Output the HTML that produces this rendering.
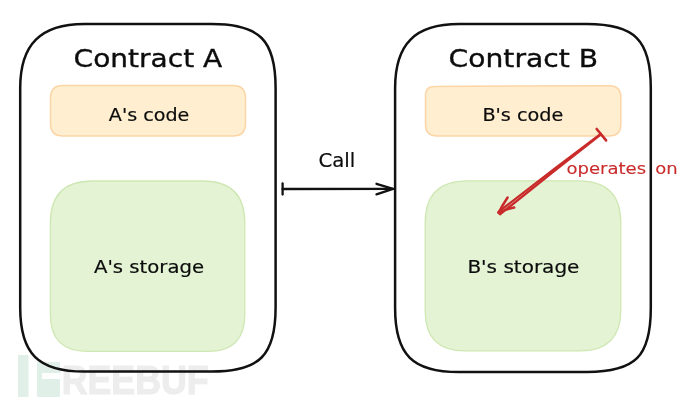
<!DOCTYPE html>
<html>
<head>
<meta charset="utf-8">
<title>Contract call diagram</title>
<style>
  html, body { margin: 0; padding: 0; background: #ffffff; }
  body { width: 690px; height: 404px; overflow: hidden; }
  svg { display: block; }
  .hand { font-family: "DejaVu Sans", "Liberation Sans", sans-serif; fill: #0c0c0c; stroke: #0c0c0c; stroke-width: 0.2; }
  .title { stroke: #0c0c0c; stroke-width: 0.35; }
  .red { fill: #c92a2a; stroke: #c92a2a; stroke-width: 0.1; }
  .wm { font-family: "Liberation Sans", sans-serif; font-weight: bold; fill: #ededed; stroke: #ededed; stroke-width: 1.2; stroke-linejoin: miter; }
  .box { fill: none; stroke: #111111; stroke-width: 2.5; stroke-linejoin: round; }
  .orange { fill: #ffefd0; stroke: #fbd5a6; stroke-width: 1.5; }
  .green { fill: #e5f3d5; stroke: #cee8b3; stroke-width: 1.3; }
</style>
</head>
<body>
<svg width="690" height="404" viewBox="0 0 690 404">
  <rect x="0" y="0" width="690" height="404" fill="#ffffff"/>

  <!-- watermark -->
  <g id="watermark" style="filter: blur(0.3px)">
    <title>FREEBUF</title>
    <rect x="18" y="355" width="10.5" height="42" fill="#e0f0e8"/>
    <path d="M37 362 H60 V373 H42 V379 H60 V397 H37 Z" fill="#e0f0e8"/>
    <text class="wm" x="61.7" y="394.3" font-size="41" textLength="147" lengthAdjust="spacingAndGlyphs">REEBUF</text>
  </g>

  <!-- Contract A -->
  <g id="contractA">
    <path class="box" d="M84.2 24 L211.6 24 C259.6 24 275.6 40.0 275.6 88 L275.6 307.5 C275.6 355.5 259.6 371.5 211.6 371.5 L84.2 371.5 C38.12 371.5 20.2 353.58 20.2 307.5 L20.2 88 C20.2 44.48 40.68 24 84.2 24 Z"/>
    <path class="orange" d="M63.0 85.5 L233.0 85.5 C241.33 85.5 245.5 89.67 245.5 98.0 L245.5 123.6 C245.5 131.93 241.33 136.1 233.0 136.1 L63.0 136.1 C54.67 136.1 50.5 131.93 50.5 123.6 L50.5 98.0 C50.5 89.67 54.67 85.5 63.0 85.5 Z"/>
    <path class="green" d="M92.4 181 L202.8 181 C230.8 181 244.8 195.0 244.8 223 L244.8 314.4 C244.8 339.07 232.47 351.4 207.8 351.4 L87.4 351.4 C62.73 351.4 50.4 339.07 50.4 314.4 L50.4 223 C50.4 195.0 64.4 181 92.4 181 Z"/>
  </g>

  <!-- Contract B -->
  <g id="contractB">
    <path class="box" d="M459.1 24.1 L586.8 24.1 C634.8 24.1 650.8 40.1 650.8 88.1 L650.8 308 C650.8 356.64 635.44 372 586.8 372 L459.1 372 C412.38 372 395.1 354.72 395.1 308 L395.1 88.1 C395.1 43.94 414.94 24.1 459.1 24.1 Z"/>
    <path class="orange" d="M434.5 86.4 L609.5 85.7 Q620.8 85.7 620.8 97.2 L620.8 124.5 Q620.8 136 609 136 L437.5 136 Q425.5 136 425.5 124.5 L425.5 95 Q425.5 86.4 434.5 86.4 Z"/>
    <path class="green" d="M467.2 180.8 L578.8 180.8 C606.8 180.8 620.8 194.8 620.8 222.8 L620.8 309.9 C620.8 337.23 607.13 350.9 579.8 350.9 L465.2 350.9 C438.53 350.9 425.2 337.57 425.2 310.9 L425.2 222.8 C425.2 194.8 439.2 180.8 467.2 180.8 Z"/>
  </g>

  <!-- Call arrow -->
  <g id="callArrow" fill="none" stroke="#111111" stroke-width="2.3" stroke-linecap="round" stroke-linejoin="round">
    <path d="M282.6 183.5 L282.6 194.5"/>
    <path d="M282.6 189 L393 188.8"/>
    <path d="M376.5 183.8 L393 188.8 L376.5 194.3"/>
  </g>

  <!-- operates on arrow -->
  <g id="opArrow" fill="none" stroke="#c92a2a" stroke-width="2.3" stroke-linecap="round" stroke-linejoin="round">
    <path d="M596.7 129 L606.1 140.4" stroke-width="2.6"/>
    <path d="M600.7 133.9 Q549 172.5 498.4 212.1"/>
    <path d="M601 134.3 Q550.2 173.8 500 214.4"/>
    <path d="M507.6 197.5 Q502 206 498.5 212.9 Q506 209 514.2 207.5" stroke-width="2.5"/>
  </g>

  <!-- labels -->
  <g id="labels" style="filter: blur(0.3px)">
    <text class="hand title" x="73.6" y="66.8" font-size="25" textLength="148.7" lengthAdjust="spacingAndGlyphs">Contract A</text>
    <text class="hand" x="108.8" y="120.8" font-size="18.5" textLength="80.5" lengthAdjust="spacingAndGlyphs">A's code</text>
    <text class="hand" x="94" y="272.7" font-size="18.5" textLength="110" lengthAdjust="spacingAndGlyphs">A's storage</text>
    <text class="hand title" x="448.6" y="66.6" font-size="25" textLength="149.5" lengthAdjust="spacingAndGlyphs">Contract B</text>
    <text class="hand" x="482.4" y="120.7" font-size="18.5" textLength="81" lengthAdjust="spacingAndGlyphs">B's code</text>
    <text class="hand" x="467.4" y="272.5" font-size="18.5" textLength="112" lengthAdjust="spacingAndGlyphs">B's storage</text>
    <text class="hand" x="318.4" y="167.4" font-size="19.5" textLength="36.8" lengthAdjust="spacingAndGlyphs">Call</text>
    <text class="hand red" x="566.4" y="173.5" font-size="15.4" textLength="111.4" style="word-spacing:3px" lengthAdjust="spacingAndGlyphs">operates on</text>
  </g>
</svg>
</body>
</html>
